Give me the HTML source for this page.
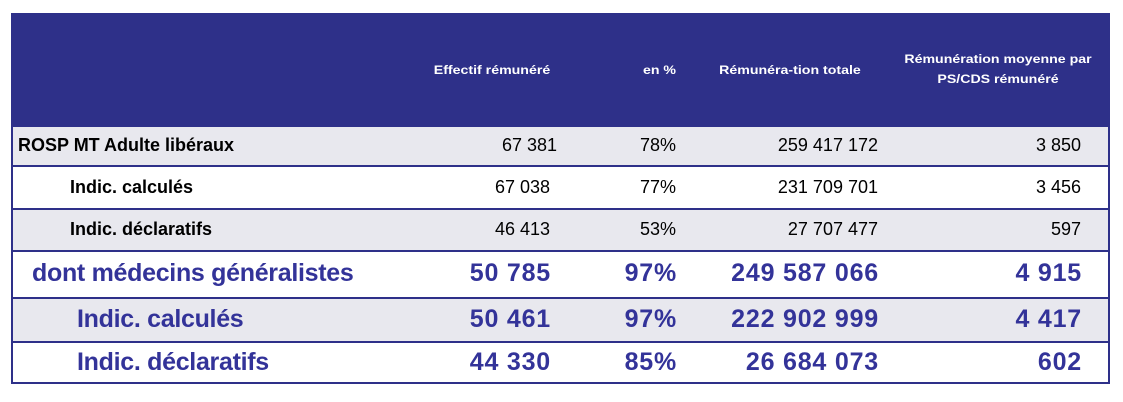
<!DOCTYPE html>
<html><head><style>
body{margin:0;width:1123px;height:402px;background:#fff;position:relative;font-family:"Liberation Sans",Arial,sans-serif;overflow:hidden}
.t{position:absolute;left:11px;width:1099px;top:13px;height:371px;border:2px solid #2e3089;box-sizing:border-box}
.h{position:absolute;left:11px;top:13px;width:1099px;height:112px;background:#2e3089}
.r{position:absolute;left:11px;width:1099px;border-top:2px solid #2e3089;box-sizing:border-box}
.g{background:#e8e8ee}
.x{position:absolute;white-space:nowrap}
.hd{color:#fff;font-weight:bold;font-size:12px;text-align:center;line-height:20px;transform:scaleX(1.18)}
.b{font-size:18px;color:#000}
.bl{font-size:25px;color:#333399;font-weight:bold;letter-spacing:-0.3px;top:0}
.n{letter-spacing:0.8px}
</style></head><body>
<div class="h"></div>
<div class="r g" style="top:125px;height:40px"></div>
<div class="r" style="top:165px;height:43px"></div>
<div class="r g" style="top:208px;height:42px"></div>
<div class="r" style="top:250px;height:47px"></div>
<div class="r g" style="top:297px;height:44px"></div>
<div class="r" style="top:341px;height:43px"></div>
<div class="t"></div>
<div class="x hd" style="left:412px;width:160px;top:60px">Effectif rémunéré</div>
<div class="x hd" style="left:576px;width:100px;top:60px;text-align:right;transform-origin:right">en %</div>
<div class="x hd" style="left:700px;width:180px;top:60px">Rémunéra-tion totale</div>
<div class="x hd" style="left:890px;width:216px;top:49px">Rémunération moyenne par<br>PS/CDS rémunéré</div>

<div class="x b" style="left:18px;top:135px;font-weight:bold">ROSP MT Adulte libéraux</div>
<div class="x b" style="left:70px;top:177px;font-weight:bold">Indic. calculés</div>
<div class="x b" style="left:70px;top:219px;font-weight:bold">Indic. déclaratifs</div>
<div class="x bl" style="left:32px;top:259px">dont médecins généralistes</div>
<div class="x bl" style="left:77px;top:305px">Indic. calculés</div>
<div class="x bl" style="left:77px;top:348px">Indic. déclaratifs</div>

<div class="x b" style="right:566px;top:135px">67 381</div>
<div class="x b" style="right:447px;top:135px">78%</div>
<div class="x b" style="right:245px;top:135px">259 417 172</div>
<div class="x b" style="right:42px;top:135px">3 850</div>

<div class="x b" style="right:573px;top:177px">67 038</div>
<div class="x b" style="right:447px;top:177px">77%</div>
<div class="x b" style="right:245px;top:177px">231 709 701</div>
<div class="x b" style="right:42px;top:177px">3 456</div>

<div class="x b" style="right:573px;top:219px">46 413</div>
<div class="x b" style="right:447px;top:219px">53%</div>
<div class="x b" style="right:245px;top:219px">27 707 477</div>
<div class="x b" style="right:42px;top:219px">597</div>

<div class="x bl n" style="right:572px;top:259px">50 785</div>
<div class="x bl n" style="right:446px;top:259px">97%</div>
<div class="x bl n" style="right:244px;top:259px">249 587 066</div>
<div class="x bl n" style="right:41px;top:259px">4 915</div>

<div class="x bl n" style="right:572px;top:305px">50 461</div>
<div class="x bl n" style="right:446px;top:305px">97%</div>
<div class="x bl n" style="right:244px;top:305px">222 902 999</div>
<div class="x bl n" style="right:41px;top:305px">4 417</div>

<div class="x bl n" style="right:572px;top:348px">44 330</div>
<div class="x bl n" style="right:446px;top:348px">85%</div>
<div class="x bl n" style="right:244px;top:348px">26 684 073</div>
<div class="x bl n" style="right:41px;top:348px">602</div>
</body></html>
